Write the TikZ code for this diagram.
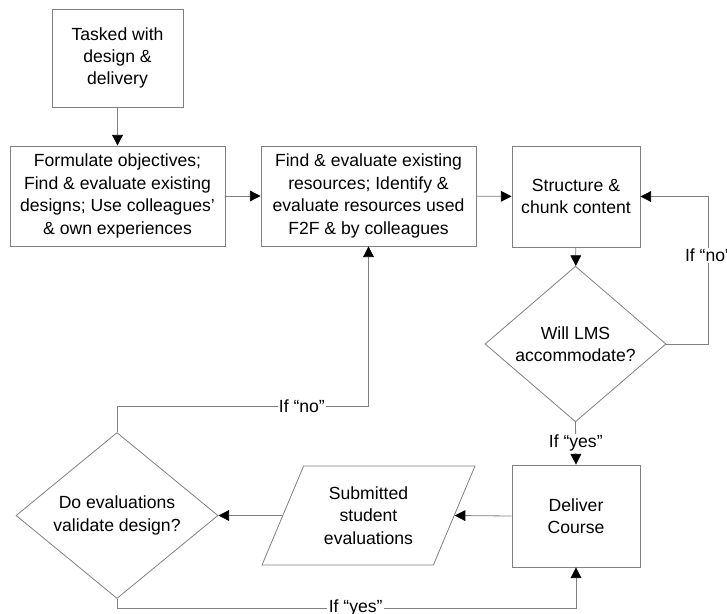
\documentclass[tikz,border=0pt]{standalone}
\usepackage{fontspec}
\setmainfont{Liberation Sans}
\usetikzlibrary{arrows.meta,positioning,calc,shapes.geometric}
\definecolor{linegray}{RGB}{128,128,128}

\begin{document}
\begin{tikzpicture}[x=0.75pt,y=-0.75pt,>={Triangle[length=8pt,width=8pt,color=black]},
   font=\fontsize{13.2}{16.8}\selectfont,
   blk/.style={rectangle,draw=linegray,line width=0.6pt,align=center,inner sep=2pt},
   dec/.style={diamond,draw=linegray,line width=0.6pt,align=center,inner sep=0pt},
   io/.style={trapezium,trapezium left angle=63.7,trapezium right angle=116.3,
     trapezium stretches=true,draw=linegray,line width=0.6pt,align=center,inner sep=0pt},
   ln/.style={draw=linegray,line width=0.6pt},
   lab/.style={fill=white,inner sep=1pt}]
  \useasboundingbox (0,0) rectangle (727,613);
  \node[blk,minimum width=98.25pt,minimum height=73.5pt] (task) at (117.5,58) {Tasked with\\design \&\\delivery};
  \node[blk,minimum width=161.25pt,minimum height=75pt] (form) at (117.5,196) {Formulate objectives;\\Find \& evaluate existing\\designs; Use colleagues’\\\& own experiences};
  \node[blk,minimum width=161.25pt,minimum height=75pt] (find) at (368.5,196) {Find \& evaluate existing\\resources; Identify \&\\evaluate resources used\\F2F \& by colleagues};
  \node[blk,minimum width=96pt,minimum height=75.75pt] (chunk) at (576,196.5) {Structure \&\\chunk content};
  \node[dec,minimum width=135.75pt,minimum height=102pt] (lms) at (575.5,344) {Will LMS\\accommodate?};
  \node[blk,minimum width=96pt,minimum height=76.5pt] (deliver) at (576,516) {Deliver\\Course};
  \node[io,minimum width=159.75pt,minimum height=74.25pt] (evals) at (368.5,515.5) {Submitted\\student\\evaluations};
  \node[dec,minimum width=151.5pt,minimum height=101.25pt] (valid) at (117,515.5) {Do evaluations\\validate design?};
  \coordinate (noright) at (708,344);
  \coordinate (noleft) at (117,406);
  \coordinate (nomid) at (368.5,406);
  \coordinate (yesleft) at (117,608);
  \coordinate (yesright) at (576,608);
  \draw[ln,->] (task) -- (form);
  \draw[ln,->] (form) -- (find);
  \draw[ln,->] (find) -- (chunk);
  \draw[ln,->] (chunk) -- (lms);
  \draw[ln,->] (lms.east) -- (noright) |- node[lab,pos=0.3]{If “no”} (chunk.east);
  \draw[ln,->] (lms.south) -- node[lab,midway]{If “yes”} (deliver.north);
  \draw[ln,->] (deliver.west) -- (evals.east);
  \draw[ln,->] (evals.west) -- (valid.east);
  \draw[ln,->] (valid.north) -- (noleft) -- node[lab,pos=0.735]{If “no”} (nomid) -- (find.south);
  \draw[ln,->] (valid.south) -- (yesleft) -- node[lab,pos=0.52]{If “yes”} (yesright) -- (deliver.south);
\end{tikzpicture}
\end{document}
